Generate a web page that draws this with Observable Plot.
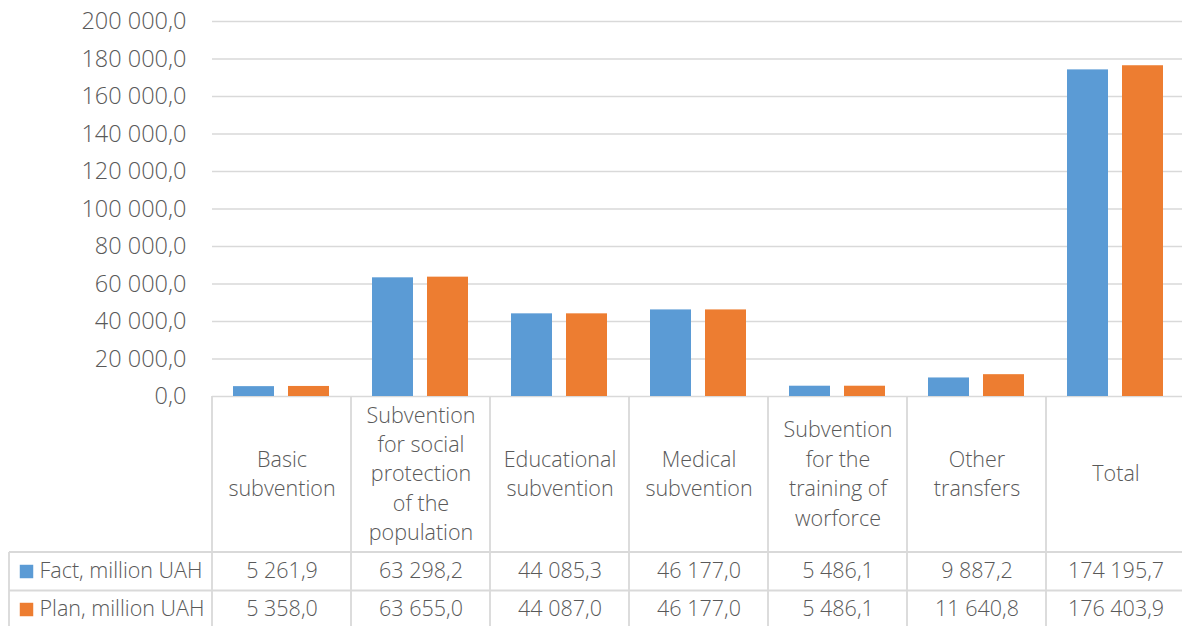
<!DOCTYPE html>
<html><head><meta charset="utf-8">
<script src="https://cdn.jsdelivr.net/npm/d3@7"></script>
<script src="https://cdn.jsdelivr.net/npm/@observablehq/plot@0.6"></script>
<style>body{margin:0;overflow:hidden;background:#fff}</style>
</head><body><div id="chart"></div>
<script>
const categories = ["Basic subvention", "Subvention for social protection of the population", "Educational subvention", "Medical subvention", "Subvention for the training of worforce", "Other transfers", "Total"];
const categoryLabels = ["Basic\nsubvention", "Subvention\nfor social\nprotection\nof the\npopulation", "Educational\nsubvention", "Medical\nsubvention", "Subvention\nfor the\ntraining of\nworforce", "Other\ntransfers", "Total"];
const series = ["Fact, million UAH", "Plan, million UAH"];
const factValues = [5261.9, 63298.2, 44085.3, 46177.0, 5486.1, 9887.2, 174195.7];
const planValues = [5358.0, 63655.0, 44087.0, 46177.0, 5486.1, 11640.8, 176403.9];
const yTicks = [0, 20000, 40000, 60000, 80000, 100000, 120000, 140000, 160000, 180000, 200000];
const colors = ["#5B9BD5", "#ED7D31"];

const locale = d3.formatLocale({decimal: ",", thousands: "\u00a0", grouping: [3], currency: ["", ""]});
const fmt = locale.format(",.1f");

const data = [];
categories.forEach((c, i) => {
  data.push({cat: c, series: series[0], value: factValues[i]});
  data.push({cat: c, series: series[1], value: planValues[i]});
});
const factData = data.filter(d => d.series === series[0]);
const planData = data.filter(d => d.series === series[1]);

const W = 1186, H = 626;
const textColor = "#595959";
const lineColor = "#d9d9d9";
const row1 = 175, row2 = 213;
const fs = 21.5;

const plot = Plot.plot({
  width: W, height: H,
  marginLeft: 210, marginRight: 0, marginTop: 21, marginBottom: 230,
  style: {fontFamily: "'Open Sans', sans-serif", fontSize: fs + "px", fontWeight: 300, color: textColor, background: "#fff", overflow: "visible", maxWidth: "none"},
  fx: {domain: categories, padding: 0, axis: null},
  x: {domain: series, paddingInner: 0.25, paddingOuter: 0.37, axis: null},
  y: {domain: [0, 200000], axis: null},
  color: {domain: series, range: colors},
  marks: [
    Plot.gridY(yTicks, {stroke: lineColor, strokeOpacity: 1, strokeWidth: 1.5}),
    Plot.axisY(yTicks, {tickSize: 0, tickPadding: 26, tickFormat: fmt, fontSize: 23.5, fill: textColor, label: null}),
    Plot.barY(data, {fx: "cat", x: "series", y: "value", fill: "series"}),
    Plot.text(categories, {fx: d => d, text: (d, i) => categoryLabels[i], frameAnchor: "bottom", dy: 75.5, lineAnchor: "middle", lineHeight: 1.37, fontSize: fs, fill: textColor}),
    Plot.text(factData, {fx: "cat", text: d => fmt(d.value), frameAnchor: "bottom", dy: row1, lineAnchor: "middle", fontSize: fs, fill: textColor}),
    Plot.text(planData, {fx: "cat", text: d => fmt(d.value), frameAnchor: "bottom", dy: row2, lineAnchor: "middle", fontSize: fs, fill: textColor}),
    Plot.text([series[0]], {fx: () => categories[0], text: d => d, frameAnchor: "bottom-left", dx: -173, dy: row1, textAnchor: "start", lineAnchor: "middle", fontSize: fs, fill: textColor}),
    Plot.text([series[1]], {fx: () => categories[0], text: d => d, frameAnchor: "bottom-left", dx: -173, dy: row2, textAnchor: "start", lineAnchor: "middle", fontSize: fs, fill: textColor}),
    Plot.dot([series[0]], {fx: () => categories[0], frameAnchor: "bottom-left", dx: -186, dy: row1, symbol: "square", r: 7.6, fill: colors[0], stroke: null}),
    Plot.dot([series[1]], {fx: () => categories[0], frameAnchor: "bottom-left", dx: -186, dy: row2, symbol: "square", r: 7.6, fill: colors[1], stroke: null})
  ]
});
document.getElementById("chart").appendChild(plot);

// table grid lines, positioned from the chart's own scales
const fxs = plot.scale("fx");
const ys = plot.scale("y");
const y0 = ys.apply(0);
const svg = d3.select(plot);
const g = svg.append("g").attr("stroke", lineColor).attr("stroke-width", 1.8);
const edges = categories.map(c => fxs.apply(c));
edges.push(edges[edges.length - 1] + fxs.bandwidth);
edges.forEach(x => g.append("line").attr("x1", x).attr("x2", x).attr("y1", y0).attr("y2", H));
const leftX = 9;
const hr1 = y0 + 156, hr2 = y0 + 194.5;
g.append("line").attr("x1", leftX).attr("x2", leftX).attr("y1", hr1).attr("y2", H);
[hr1, hr2].forEach(y => g.append("line").attr("x1", leftX).attr("x2", W).attr("y1", y).attr("y2", y));
</script>
</body></html>
